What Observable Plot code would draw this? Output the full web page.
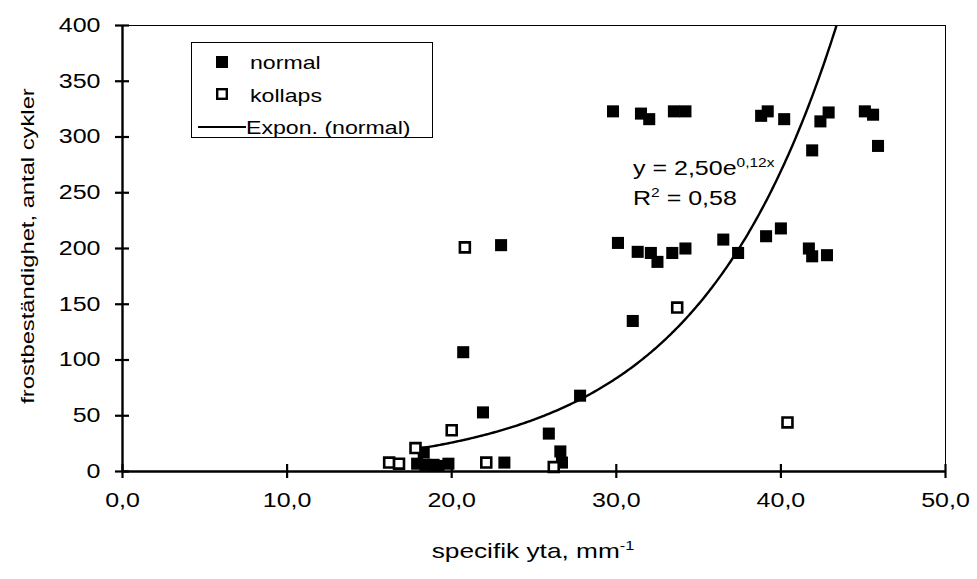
<!DOCTYPE html>
<html><head><meta charset="utf-8">
<script src="https://cdn.jsdelivr.net/npm/d3@7"></script>
<script src="https://cdn.jsdelivr.net/npm/@observablehq/plot@0.6"></script>
<style>
body{margin:0;background:#fff;font-family:"Liberation Sans",Arial,sans-serif;color:#000;}
#wrap{position:relative;width:977px;height:579px;overflow:hidden;}
.ov{position:absolute;white-space:nowrap;line-height:1;}
sup{font-size:62%;vertical-align:0;position:relative;top:-0.65em;}
</style></head><body><div id="wrap"></div>
<script>
// ---- data ----
const normalX = [17.9, 18.3, 18.4, 18.9, 19.2, 19.8, 20.7, 21.9, 23.0, 23.2, 25.9, 26.6, 26.7, 27.8, 31.0,
                 30.1, 31.3, 32.1, 32.5, 33.4, 34.2, 36.5, 37.4, 39.1, 40.0, 41.7, 41.9, 42.8,
                 29.8, 31.5, 32.0, 33.5, 34.2, 38.8, 39.2, 40.2, 42.4, 42.9, 45.1, 45.6, 45.9, 41.9];
const normalY = [7, 17, 6, 6, 5, 7, 107, 53, 203, 8, 34, 18, 8, 68, 135,
                 205, 197, 196, 188, 196, 200, 208, 196, 211, 218, 200, 193, 194,
                 323, 321, 316, 323, 323, 319, 323, 316, 314, 322, 323, 320, 292, 288];
const kollapsX = [16.2, 16.8, 17.8, 20.0, 20.8, 22.1, 26.2, 33.7, 40.4];
const kollapsY = [8, 7, 21, 37, 201, 8, 4, 147, 44];
const xTicks = [0, 10, 20, 30, 40, 50];
const yTicks = [0, 50, 100, 150, 200, 250, 300, 350, 400];
const seriesNames = ["normal", "kollaps", "Expon. (normal)"];
// exponential trendline y = a*e^(b*x) (displayed as 2,50e^0,12x)
const fitA = 2.50, fitB = 0.117;
const fitXStart = 17.9, fitXEnd = 44;

const normal = normalX.map((x, i) => ({x, y: normalY[i]}));
const kollaps = kollapsX.map((x, i) => ({x, y: kollapsY[i]}));
const fit = d3.range(fitXStart, fitXEnd + 0.001, 0.1).map(x => ({x, y: fitA * Math.exp(fitB * x)}));

const comma = d => d.toFixed(1).replace(".", ",");
const SX = 1.25; // the reference typeface is wide

const chart = Plot.plot({
  width: 977, height: 579,
  marginLeft: 122, marginRight: 32, marginTop: 25, marginBottom: 108,
  style: {fontFamily: "'Liberation Sans', Arial, sans-serif", fontSize: "20px", background: "white", color: "black"},
  x: {domain: [0, 50]},
  y: {domain: [0, 400]},
  marks: [
    Plot.frame({stroke: "black", strokeWidth: 1}),
    Plot.line(fit, {x: "x", y: "y", stroke: "black", strokeWidth: 2.4, clip: true}),
    Plot.dot(normal, {x: "x", y: "y", symbol: "square", r: 6.8, fill: "black", stroke: "none"}),
    Plot.dot(kollaps, {x: "x", y: "y", symbol: "square", r: 5.6, fill: "white", stroke: "black", strokeWidth: 2.6}),
    Plot.ruleY([0], {stroke: "black", strokeWidth: 2.4}),
    Plot.ruleX([0], {stroke: "black", strokeWidth: 2.4}),
    Plot.ruleX(xTicks, {x: d => d, y1: 0, y2: 0, insetTop: -7, insetBottom: -7, stroke: "black", strokeWidth: 2.2}),
    Plot.ruleY(yTicks, {y: d => d, x1: 0, x2: 0, insetLeft: -7, insetRight: -7, stroke: "black", strokeWidth: 2.2}),
    Plot.axisX({ticks: xTicks, tickSize: 0, tickPadding: 21, tickFormat: comma, label: null, fontSize: 20}),
    Plot.axisY({ticks: yTicks, tickSize: 0, tickPadding: 22, label: null, fontSize: 20})
  ]
});
// widen the tick-label glyphs around their anchors
chart.querySelectorAll('g[aria-label$="tick label"] text').forEach(t => {
  t.setAttribute("transform", (t.getAttribute("transform") || "") + ` scale(${SX},1)`);
});
const wrap = document.getElementById("wrap");
wrap.appendChild(chart);

// overlays: axis titles, legend, equation
function ov(html, css) {
  const d = document.createElement("div");
  d.className = "ov"; d.innerHTML = html; d.style.cssText += css; wrap.appendChild(d); return d;
}
ov("specifik yta, mm<sup>-1</sup>", `left:0;width:1066px;text-align:center;top:540px;font-size:21px;transform:scaleX(${SX});transform-origin:533px 0;`);
ov("frostbeständighet, antal cykler", `left:27px;top:246px;font-size:19px;transform:translate(-50%,-50%) rotate(-90deg) scaleX(${SX});`);

// legend
const T = (x, y, s) => `<text transform="translate(${x},${y}) scale(${SX},1)" font-size="18.5">${s}</text>`;
ov(`<svg width="242" height="96" style="display:block">
  <rect x="0.5" y="0.5" width="241" height="95" fill="white" stroke="black" stroke-width="1"/>
  <rect x="25" y="14" width="12" height="12" fill="black"/>
  <rect x="26.2" y="47.2" width="9.6" height="9.6" fill="white" stroke="black" stroke-width="2.4"/>
  <line x1="7" x2="55" y1="85" y2="85" stroke="black" stroke-width="2.2"/>
  ${T(59, 27, seriesNames[0])}
  ${T(59, 60, seriesNames[1])}
  ${T(55, 92, seriesNames[2])}
</svg>`, "left:191px;top:42px;");

ov(`y = 2,50e<sup>0,12x</sup>`, `left:633px;top:158px;font-size:20px;transform:scaleX(${SX});transform-origin:0 0;`);
ov(`R<sup>2</sup> = 0,58`, `left:633px;top:188px;font-size:20px;transform:scaleX(${SX});transform-origin:0 0;`);
</script></body></html>
